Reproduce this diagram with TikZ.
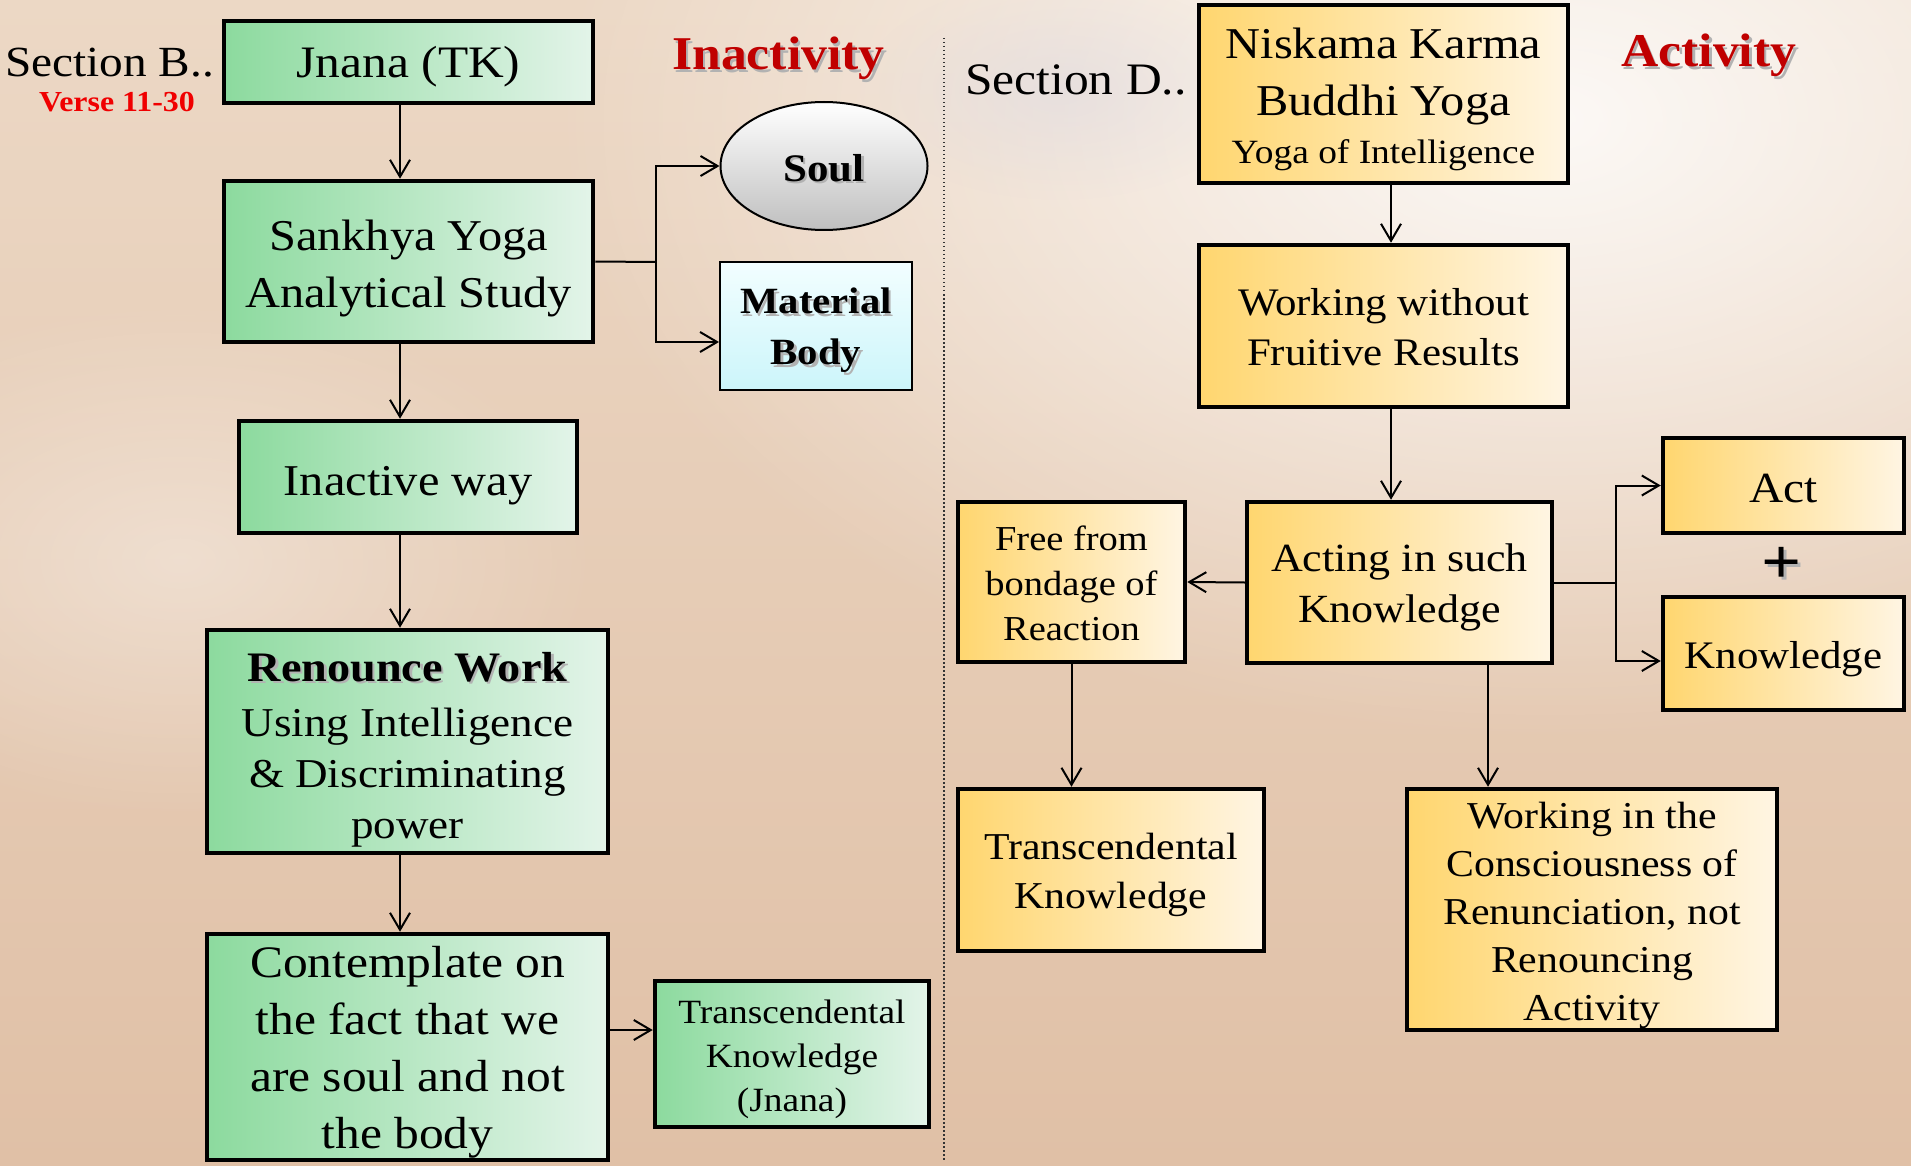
\documentclass[tikz,border=0pt]{standalone}
\usepackage{fontspec}
\setmainfont{Liberation Serif}[FakeStretch=1.1]
\usetikzlibrary{arrows.meta,fadings,shapes.geometric}

\definecolor{gL}{HTML}{8CDA9E}
\definecolor{gR}{HTML}{E3F4E9}
\definecolor{yL}{HTML}{FFD66F}
\definecolor{yR}{HTML}{FFF5E3}
\definecolor{cyT}{HTML}{F2FEFF}
\definecolor{cyB}{HTML}{CCF5FA}
\definecolor{titlered}{HTML}{C00000}
\definecolor{verseRed}{HTML}{F00000}
\definecolor{bgTop}{HTML}{ECD8C5}
\definecolor{bgBot}{HTML}{E0C0A6}
\definecolor{haze}{HTML}{DCD8E0}

% font size helper (size, baselineskip in pt)
\newcommand{\fsz}[2]{\fontsize{#1pt}{#2pt}\selectfont}
% text with a soft drop shadow
\newcommand{\shtext}[2]{\makebox[0pt][l]{\hspace{2.5pt}\raisebox{-2.5pt}{\textcolor{black!30}{#2}}}\textcolor{#1}{#2}}
% invisible strut that lowers a centred text block by half its extra height
\newcommand{\tup}[1]{\rule{0pt}{\dimexpr\fontcharht\font`\(+#1\relax}}

\tikzfading[name=softblob, inner color=transparent!0, outer color=transparent!100]

\begin{document}
\begin{tikzpicture}[x=1pt,y=-1pt,
  greenbox/.style={draw=black, line width=4.5pt, left color=gL, right color=gR,
    align=center, inner sep=0pt},
  yellowbox/.style={draw=black, line width=4.5pt, left color=yL, right color=yR,
    align=center, inner sep=0pt},
  arr/.style={line width=2pt, -{Straight Barb[length=17pt,width=20pt,line width=2pt]}},
  link/.style={line width=2pt},
  label/.style={inner sep=0pt, anchor=base west}
]
% background
\useasboundingbox (0,0) rectangle (1911,1166);
\fill[top color=bgTop, bottom color=bgBot] (0,0) rectangle (1911,1166);
\fill[white, opacity=0.85, path fading=softblob] (1550,120) ellipse [x radius=1000, y radius=620];
\fill[haze, opacity=0.5, path fading=softblob] (1060,90) ellipse [x radius=200, y radius=110];
\fill[white, opacity=0.35, path fading=softblob] (180,560) ellipse [x radius=420, y radius=260];

% headings
\node[label, font=\fsz{43}{50}] (secB) at (5,77) {Section B..};
\node[label, font=\fsz{29}{36}\bfseries, text=verseRed] (verse) at (39,112) {Verse 11-30};
\node[label, font=\fsz{47}{54}\bfseries] (inact) at (672,70) {\shtext{titlered}{Inactivity}};
\node[label, font=\fsz{45}{50}] (secD) at (965,95) {Section D..};
\node[label, font=\fsz{47}{54}\bfseries] (activ) at (1621,67) {\shtext{titlered}{Activity}};

% separator
\coordinate (sepTop) at (943.6,38);
\coordinate (sepBot) at (943.6,1160);
\draw[line width=1.8pt, black!80, dash pattern=on 1.5pt off 2.5pt] (sepTop) -- (sepBot);

% left column: inactivity
\node[greenbox, minimum width=369pt, minimum height=82pt, font=\fsz{45}{54}] (jnana) at (408.5,62)
  {\tup{12pt}Jnana (TK)};
\node[greenbox, minimum width=369pt, minimum height=161pt, font=\fsz{44}{57}] (sankhya) at (408.5,261.5)
  {\tup{15pt}Sankhya Yoga\\Analytical Study};
\node[draw=black, line width=2pt, ellipse, top color=white, bottom color=black!25,
  minimum width=207pt, minimum height=128pt, inner sep=0pt, font=\fsz{39}{46}\bfseries] (soul) at (824,166)
  {\tup{8pt}\shtext{black}{Soul}};
\node[draw=black, line width=2pt, top color=cyT, bottom color=cyB, align=center,
  minimum width=192pt, minimum height=128pt, inner sep=0pt, font=\fsz{37}{51}\bfseries] (matbody) at (816,326)
  {\tup{13pt}\shtext{black}{Material}\\\shtext{black}{Body}};
\node[greenbox, minimum width=338pt, minimum height=112pt, font=\fsz{44}{54}] (inactive) at (408,477)
  {\tup{18pt}Inactive way};
\node[greenbox, minimum width=401pt, minimum height=223pt, font=\fsz{41}{51}] (renounce) at (407.5,741.5)
  {\tup{18pt}{\fsz{42}{55}\bfseries\shtext{black}{Renounce Work}}\\[4pt]Using Intelligence\\\& Discriminating\\power};
\node[greenbox, minimum width=401pt, minimum height=226pt, font=\fsz{45}{57}] (contemplate) at (407.5,1047)
  {\tup{12pt}Contemplate on\\the fact that we\\are soul and not\\the body};
\node[greenbox, minimum width=274pt, minimum height=146pt, font=\fsz{34}{44}] (tkjnana) at (792,1054)
  {\tup{12pt}Transcendental\\Knowledge\\(Jnana)};

% left column connectors
\draw[arr] ([xshift=-8.5pt]jnana.south) -- ([xshift=-8.5pt]sankhya.north);
\coordinate (sjoin) at (656,262);
\draw[link] (sankhya.east) -- (sjoin);
\draw[arr] (sjoin) |- (soul.west);
\draw[arr] (sjoin) |- ([yshift=-16pt]matbody.west);
\draw[arr] ([xshift=-8.5pt]sankhya.south) -- ([xshift=-8pt]inactive.north);
\draw[arr] ([xshift=-8pt]inactive.south) -- ([xshift=-7.5pt]renounce.north);
\draw[arr] ([xshift=-7.5pt]renounce.south) -- ([xshift=-7.5pt]contemplate.north);
\draw[arr] ([yshift=17pt]contemplate.east) -- ([yshift=24pt]tkjnana.west);

% right column: activity
\node[yellowbox, minimum width=369pt, minimum height=178pt, font=\fsz{44}{57}] (niskama) at (1383.5,94)
  {\tup{13pt}Niskama Karma\\Buddhi Yoga\\[-9pt]{\fsz{34}{41}Yoga of Intelligence}};
\node[yellowbox, minimum width=369pt, minimum height=162pt, font=\fsz{39}{50}] (working) at (1383.5,326)
  {\tup{3pt}Working without\\Fruitive Results};
\node[yellowbox, minimum width=305pt, minimum height=161pt, font=\fsz{40}{51}] (acting) at (1399.5,582.5)
  {\tup{12pt}Acting in such\\Knowledge};
\node[yellowbox, minimum width=227pt, minimum height=160pt, font=\fsz{35}{45}] (free) at (1071.5,582)
  {\tup{4pt}Free from\\bondage of\\Reaction};
\node[yellowbox, minimum width=241pt, minimum height=95pt, font=\fsz{43}{50}] (act) at (1783.5,485.5)
  {\tup{6pt}Act};
\node[inner sep=0pt, font=\fsz{64}{64}\bfseries] (plus) at (1782,567) {\shtext{black}{+}};
\node[yellowbox, minimum width=241pt, minimum height=113pt, font=\fsz{39}{50}] (know) at (1783.5,653.5)
  {\tup{12pt}Knowledge};
\node[yellowbox, minimum width=306pt, minimum height=162pt, font=\fsz{38}{49}] (tkright) at (1111,870)
  {\tup{12pt}Transcendental\\Knowledge};
\node[yellowbox, minimum width=370pt, minimum height=241pt, font=\fsz{38}{48}] (workingin) at (1592,909.5)
  {\tup{13pt}Working in the\\Consciousness of\\Renunciation, not\\Renouncing\\Activity};

% right column connectors
\draw[arr] ([xshift=7.5pt]niskama.south) -- ([xshift=7.5pt]working.north);
\draw[arr] ([xshift=7.5pt]working.south) -- ([xshift=-8.5pt]acting.north);
\draw[arr] (acting.west) -- (free.east);
\coordinate (ajoin) at (1616,582.5);
\draw[link] (acting.east) -- (ajoin);
\draw[arr] (ajoin) |- (act.west);
\draw[arr] (ajoin) |- ([yshift=-7.5pt]know.west);
\draw[arr] (free.south) -- (free.south |- tkright.north);
\draw[arr] ([xshift=88.5pt]acting.south) -- ([xshift=88.5pt]acting.south |- workingin.north);
\end{tikzpicture}
\end{document}
